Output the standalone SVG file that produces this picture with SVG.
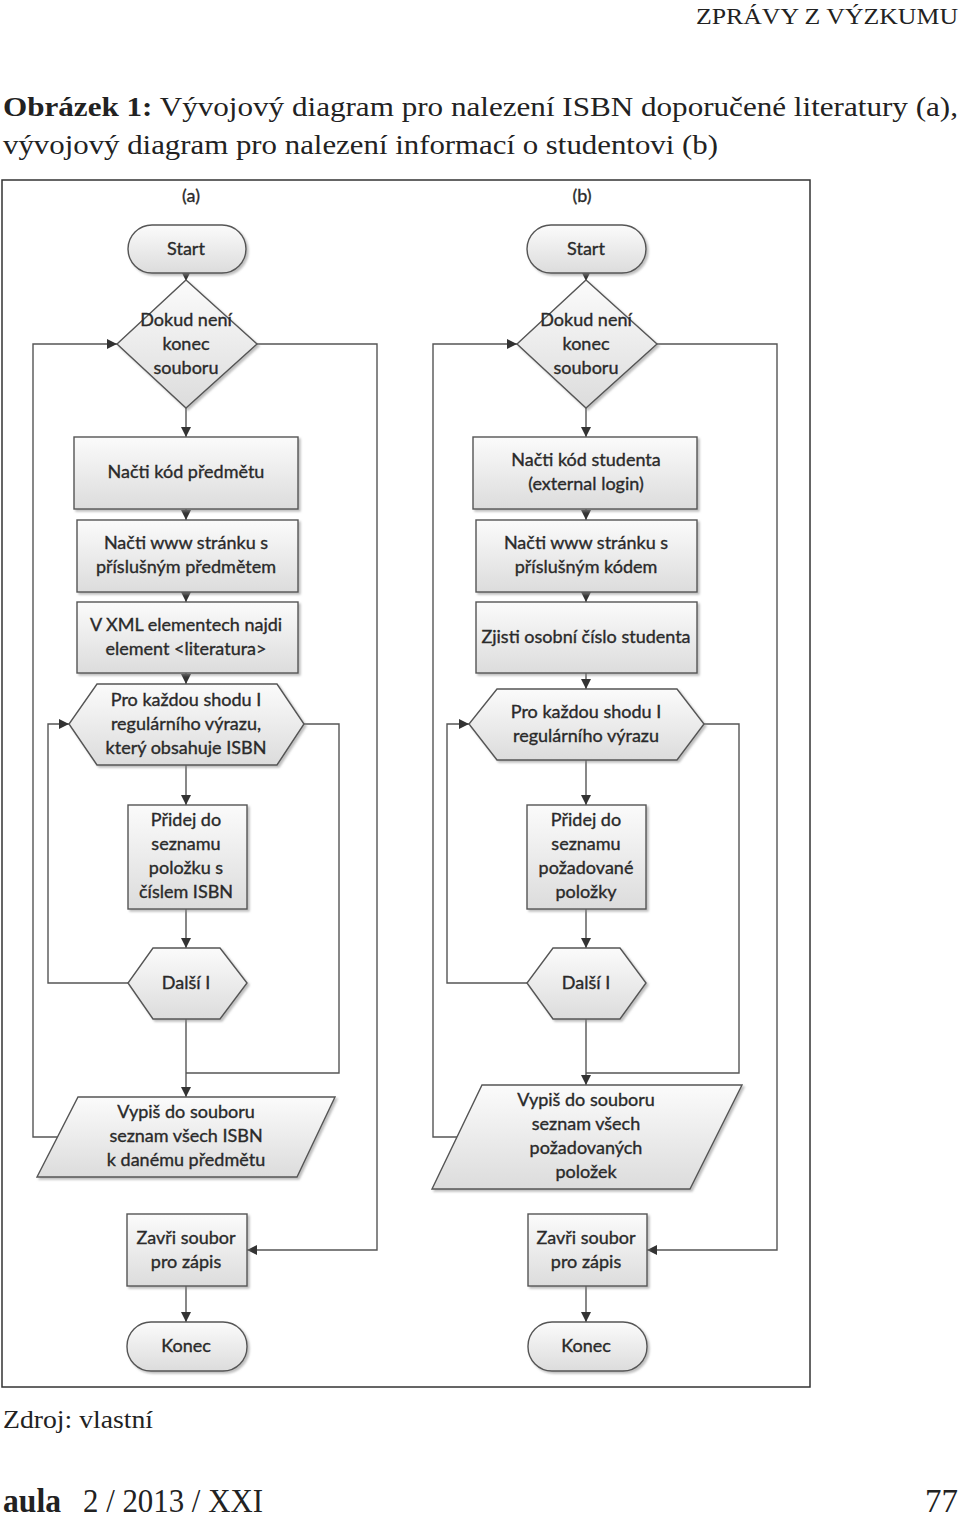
<svg xmlns="http://www.w3.org/2000/svg" width="960" height="1518" viewBox="0 0 960 1518">
<defs>
<linearGradient id="g" x1="0" y1="0" x2="0" y2="1">
<stop offset="0" stop-color="#fbfbfb"/>
<stop offset="1" stop-color="#dcdcdc"/>
</linearGradient>
<filter id="sh" x="-10%" y="-10%" width="130%" height="130%">
<feDropShadow dx="2" dy="2" stdDeviation="1.2" flood-color="#888" flood-opacity="0.55"/>
</filter>
<marker id="ar" markerUnits="userSpaceOnUse" markerWidth="10" markerHeight="10" refX="10" refY="5" orient="auto">
<path d="M0,0 L10,5 L0,10 z" fill="#333"/>
</marker>
<style>
.s{fill:url(#g);stroke:#555;stroke-width:1.4;filter:url(#sh)}
.t{font-family:Lato,"Liberation Sans",sans-serif;font-size:18px;fill:#2a2a2a;stroke:#2a2a2a;stroke-width:0.35;text-anchor:middle}
.c{fill:none;stroke:#555;stroke-width:1.4}
.a{marker-end:url(#ar)}
.h{font-family:"Liberation Serif",serif;fill:#222}
</style>
</defs>

<g id="page-text">
<text class="h" x="958" y="24" font-size="23" text-anchor="end" textLength="262" lengthAdjust="spacingAndGlyphs">ZPRÁVY Z VÝZKUMU</text>
<text class="h" x="3" y="116" font-size="28" textLength="955" lengthAdjust="spacingAndGlyphs"><tspan font-weight="bold">Obrázek 1:</tspan> Vývojový diagram pro nalezení ISBN doporučené literatury (a),</text>
<text class="h" x="3" y="154" font-size="28" textLength="715" lengthAdjust="spacingAndGlyphs">vývojový diagram pro nalezení informací o studentovi (b)</text>
<text class="h" x="3" y="1428" font-size="25" textLength="150" lengthAdjust="spacingAndGlyphs">Zdroj: vlastní</text>
<text class="h" x="3" y="1512" font-size="34" font-weight="bold" textLength="58" lengthAdjust="spacingAndGlyphs">aula</text>
<text class="h" x="83" y="1512" font-size="34" textLength="180" lengthAdjust="spacingAndGlyphs">2 / 2013 / XXI</text>
<text class="h" x="958" y="1512" font-size="34" text-anchor="end" textLength="33" lengthAdjust="spacingAndGlyphs">77</text>
</g>

<rect id="frame" x="2" y="180" width="808" height="1207" fill="#fff" stroke="#333" stroke-width="1.5"/>

<g id="connectors">
<!-- (a) -->
<line class="c a" x1="186" y1="273" x2="186" y2="281"/>
<line class="c a" x1="186" y1="408" x2="186" y2="437"/>
<line class="c a" x1="186" y1="509" x2="186" y2="520"/>
<line class="c a" x1="186" y1="592" x2="186" y2="602"/>
<line class="c a" x1="186" y1="673" x2="186" y2="684"/>
<line class="c a" x1="186" y1="765" x2="186" y2="805"/>
<line class="c a" x1="186" y1="909" x2="186" y2="948"/>
<line class="c a" x1="186" y1="1019" x2="186" y2="1097"/>
<polyline class="c" points="304,724 339,724 339,1073 186,1073"/>
<polyline class="c a" points="128,983 48,983 48,724 69,724"/>
<polyline class="c a" points="58,1137 33,1137 33,344 117,344"/>
<polyline class="c a" points="257,344 377,344 377,1250 247,1250"/>
<line class="c a" x1="186" y1="1286" x2="186" y2="1322"/>
<!-- (b) -->
<line class="c a" x1="586" y1="273" x2="586" y2="281"/>
<line class="c a" x1="586" y1="408" x2="586" y2="437"/>
<line class="c a" x1="586" y1="509" x2="586" y2="520"/>
<line class="c a" x1="586" y1="592" x2="586" y2="602"/>
<line class="c a" x1="586" y1="673" x2="586" y2="689"/>
<line class="c a" x1="586" y1="760" x2="586" y2="805"/>
<line class="c a" x1="586" y1="909" x2="586" y2="948"/>
<line class="c a" x1="586" y1="1019" x2="586" y2="1085"/>
<polyline class="c" points="704,724 739,724 739,1073 586,1073"/>
<polyline class="c a" points="527,983 447,983 447,724 469,724"/>
<polyline class="c a" points="457,1137 433,1137 433,344 517,344"/>
<polyline class="c a" points="657,344 777,344 777,1250 647,1250"/>
<line class="c a" x1="586" y1="1286" x2="586" y2="1322"/>
</g>

<text class="t" x="191" y="202" font-size="16">(a)</text>
<text class="t" x="582" y="202" font-size="16">(b)</text>

<!-- Diagram (a) -->
<g id="a-start"><rect class="s" x="128" y="225" width="118" height="48" rx="24"/><text class="t" x="186" y="255">Start</text></g>
<g id="a-loop"><polygon class="s" points="186,280 257,344 186,408 117,344"/><text class="t" x="186" y="326">Dokud není</text><text class="t" x="186" y="350">konec</text><text class="t" x="186" y="374">souboru</text></g>
<g id="a-read-code"><rect class="s" x="74" y="437" width="224" height="72"/><text class="t" x="186" y="478">Načti kód předmětu</text></g>
<g id="a-read-page"><rect class="s" x="77" y="520" width="221" height="72"/><text class="t" x="186" y="549">Načti www stránku s</text><text class="t" x="186" y="573">příslušným předmětem</text></g>
<g id="a-find"><rect class="s" x="77" y="602" width="221" height="71"/><text class="t" x="186" y="631">V XML elementech najdi</text><text class="t" x="186" y="655">element &lt;literatura&gt;</text></g>
<g id="a-for"><polygon class="s" points="97,684 277,684 304,724 277,765 97,765 69,724"/><text class="t" x="186" y="706">Pro každou shodu I</text><text class="t" x="186" y="730">regulárního výrazu,</text><text class="t" x="186" y="754">který obsahuje ISBN</text></g>
<g id="a-add"><rect class="s" x="128" y="805" width="119" height="104"/><text class="t" x="186" y="826">Přidej do</text><text class="t" x="186" y="850">seznamu</text><text class="t" x="186" y="874">položku s</text><text class="t" x="186" y="898">číslem ISBN</text></g>
<g id="a-next"><polygon class="s" points="153,948 220,948 247,983 220,1019 153,1019 128,983"/><text class="t" x="186" y="989">Další I</text></g>
<g id="a-write"><polygon class="s" points="78,1097 335,1097 297,1177 37,1177"/><text class="t" x="186" y="1118">Vypiš do souboru</text><text class="t" x="186" y="1142">seznam všech ISBN</text><text class="t" x="186" y="1166">k danému předmětu</text></g>
<g id="a-close"><rect class="s" x="127" y="1214" width="120" height="72"/><text class="t" x="186" y="1244">Zavři soubor</text><text class="t" x="186" y="1268">pro zápis</text></g>
<g id="a-end"><rect class="s" x="127" y="1322" width="120" height="49" rx="24"/><text class="t" x="186" y="1352">Konec</text></g>

<!-- Diagram (b) -->
<g id="b-start"><rect class="s" x="527" y="225" width="119" height="48" rx="24"/><text class="t" x="586" y="255">Start</text></g>
<g id="b-loop"><polygon class="s" points="586,280 657,344 586,408 517,344"/><text class="t" x="586" y="326">Dokud není</text><text class="t" x="586" y="350">konec</text><text class="t" x="586" y="374">souboru</text></g>
<g id="b-read-code"><rect class="s" x="473" y="437" width="224" height="72"/><text class="t" x="586" y="466">Načti kód studenta</text><text class="t" x="586" y="490">(external login)</text></g>
<g id="b-read-page"><rect class="s" x="476" y="520" width="221" height="72"/><text class="t" x="586" y="549">Načti www stránku s</text><text class="t" x="586" y="573">příslušným kódem</text></g>
<g id="b-find"><rect class="s" x="476" y="602" width="221" height="71"/><text class="t" x="586" y="643">Zjisti osobní číslo studenta</text></g>
<g id="b-for"><polygon class="s" points="497,689 677,689 704,724 677,760 497,760 469,724"/><text class="t" x="586" y="718">Pro každou shodu I</text><text class="t" x="586" y="742">regulárního výrazu</text></g>
<g id="b-add"><rect class="s" x="527" y="805" width="119" height="104"/><text class="t" x="586" y="826">Přidej do</text><text class="t" x="586" y="850">seznamu</text><text class="t" x="586" y="874">požadované</text><text class="t" x="586" y="898">položky</text></g>
<g id="b-next"><polygon class="s" points="553,948 620,948 646,983 620,1019 553,1019 527,983"/><text class="t" x="586" y="989">Další I</text></g>
<g id="b-write"><polygon class="s" points="482,1085 742,1085 690,1189 432,1189"/><text class="t" x="586" y="1106">Vypiš do souboru</text><text class="t" x="586" y="1130">seznam všech</text><text class="t" x="586" y="1154">požadovaných</text><text class="t" x="586" y="1178">položek</text></g>
<g id="b-close"><rect class="s" x="528" y="1214" width="119" height="72"/><text class="t" x="586" y="1244">Zavři soubor</text><text class="t" x="586" y="1268">pro zápis</text></g>
<g id="b-end"><rect class="s" x="528" y="1322" width="119" height="49" rx="24"/><text class="t" x="586" y="1352">Konec</text></g>
</svg>
